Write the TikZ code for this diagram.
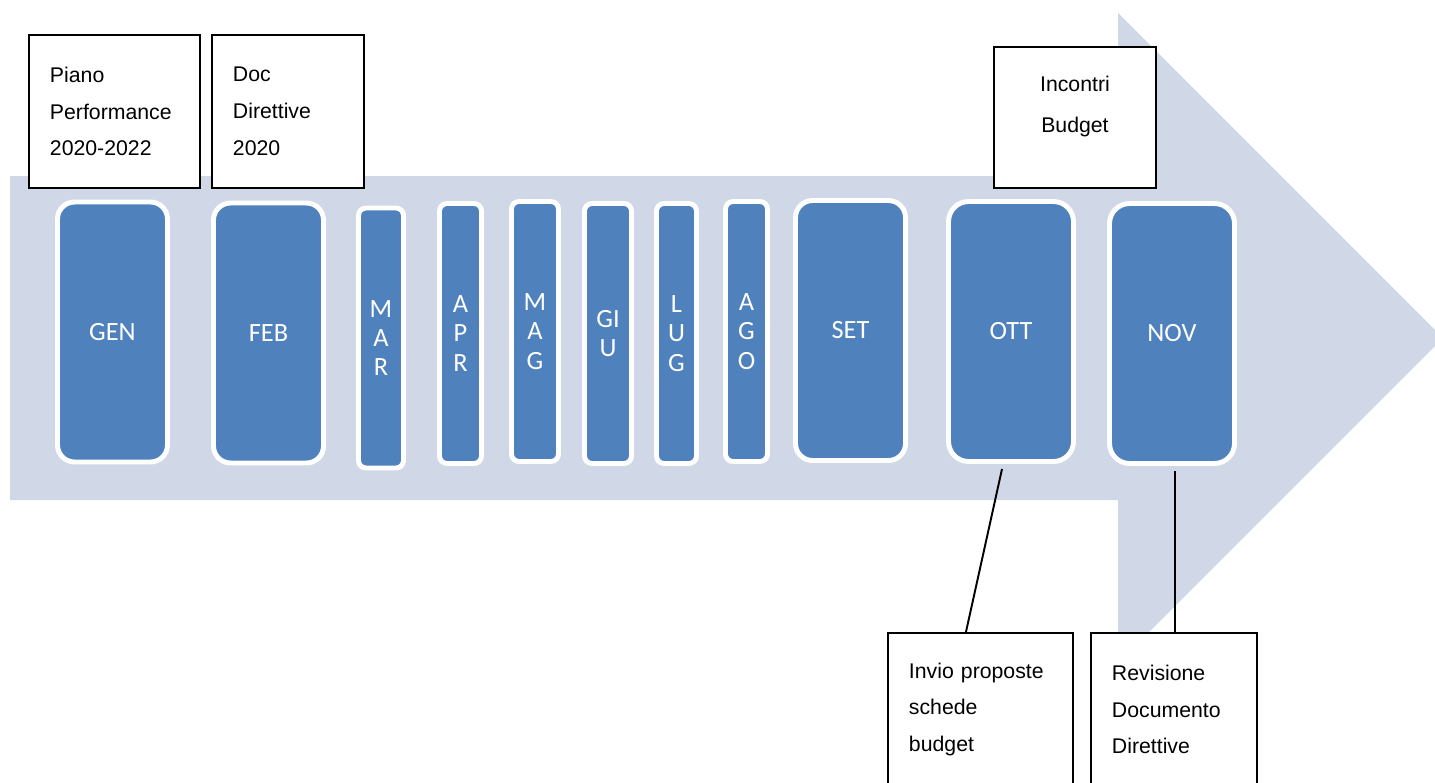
\documentclass[tikz,border=0pt]{standalone}
\usepackage{fontspec}
\setmainfont{Liberation Sans}
\newfontfamily\monthfont{Carlito}
\usepackage{tikz}
\definecolor{arrowblue}{HTML}{D0D8E8}
\definecolor{monthblue}{HTML}{4F81BD}

\begin{document}
\begin{tikzpicture}[x=0.02cm, y=0.02cm,
        monthbox/.style={rectangle, draw=white, line width=2.8pt, fill=monthblue, text=white, inner sep=0pt, align=center, minimum height=5.2cm, rounded corners=#1, font=\monthfont\fontsize{15}{16.7}\selectfont},
        monthbox/.default=0.34cm,
        note/.style={rectangle, draw=black, line width=1.1pt, fill=white, inner xsep=0.42cm, inner ysep=0pt, align=left, minimum height=3.06cm, anchor=north west, font=\fontsize{12.1}{21}\selectfont},
        link/.style={draw=black, line width=1.1pt}]
        \useasboundingbox (0,0) rectangle (1435,-782);
        \clip (0,0) rectangle (1435,-782);
        % big arrow in the background
        \fill[arrowblue] (10,-176) -- (1118,-176) -- (1118,-13) -- (1443,-338) -- (1118,-663) -- (1118,-500) -- (10,-500) -- cycle;
        % months
        \node[monthbox, minimum width=2.2cm] (gen) at (112.5,-332) {GEN};
        \node[monthbox, minimum width=2.2cm] (feb) at (268.5,-333) {FEB};
        \node[monthbox=0.15cm, minimum width=0.9cm] (mar) at (381,-338) {M\\A\\R};
        \node[monthbox=0.15cm, minimum width=0.84cm] (apr) at (460.5,-333.5) {A\\P\\R};
        \node[monthbox=0.15cm, minimum width=0.94cm] (mag) at (535,-331.5) {M\\A\\G};
        \node[monthbox=0.15cm, minimum width=0.94cm] (giu) at (608,-333.5) {GI\\U};
        \node[monthbox=0.15cm, minimum width=0.8cm] (lug) at (676.5,-333.5) {L\\U\\G};
        \node[monthbox=0.15cm, minimum width=0.84cm] (ago) at (746.5,-331.5) {A\\G\\O};
        \node[monthbox, minimum width=2.2cm] (set) at (850.5,-330.5) {SET};
        \node[monthbox=0.4cm, minimum width=2.5cm] (ott) at (1011,-331.5) {OTT};
        \node[monthbox=0.4cm, minimum width=2.5cm] (nov) at (1172,-333.5) {NOV};
        % notes
        \node[note, text width=2.58cm] (piano) at (28,-34) {Piano\\Performance\\2020-2022};
        \node[note, text width=2.2cm] (doc) at (211,-34) {Doc\\Direttive\\2020};
        \node[note, text width=2.4cm, minimum height=2.82cm, label={[anchor=north, align=center, inner sep=0pt, yshift=-0.6cm, font=\fontsize{12.1}{23}\selectfont]north:Incontri\\Budget}] (incontri) at (993,-46) {};
        \node[note, text width=2.86cm] (invio) at (887,-632) {Invio proposte\\schede\\budget};
        \node[note, text width=2.48cm] (revisione) at (1090,-632) {Revisione\\Documento\\Direttive};
        \draw[link] ([xshift=-0.18cm, yshift=-0.1cm]ott.south) -- ([xshift=-0.29cm]invio.north);
        \draw[link] ([xshift=0.06cm, yshift=-0.1cm]nov.south) -- ([xshift=0.06cm]nov.south |- revisione.north);
    \end{tikzpicture}
\end{document}
